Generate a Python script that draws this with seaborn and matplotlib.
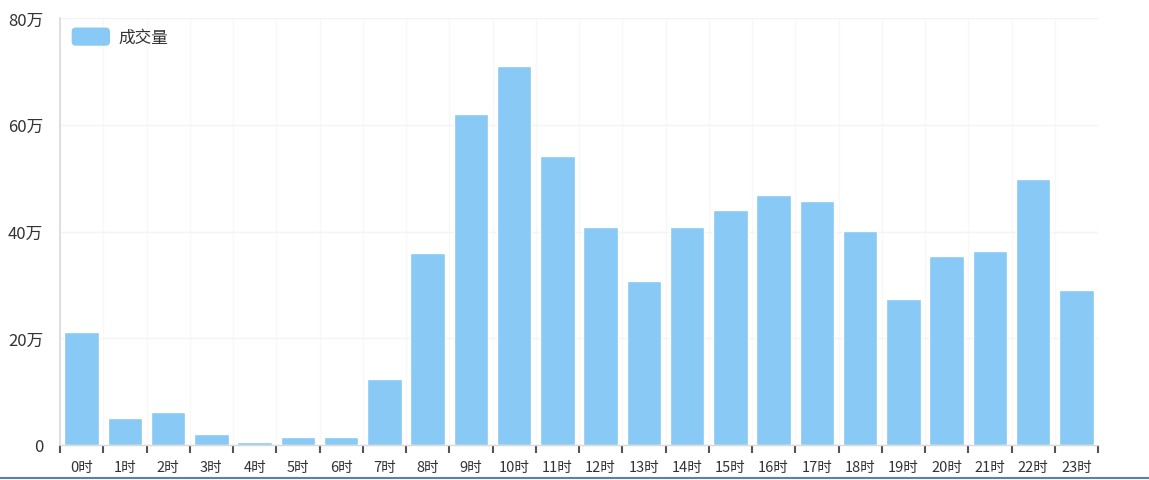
import matplotlib
matplotlib.use("Agg")
import matplotlib.pyplot as plt
import seaborn as sns
import pandas as pd
from matplotlib.patches import FancyBboxPatch, Patch
from matplotlib.legend_handler import HandlerPatch
from matplotlib.lines import Line2D

hours = [f"{i}时" for i in range(24)]
volume = [21.2, 5.1, 6.2, 2.1, 0.6, 1.5, 1.5, 12.4, 36.0, 62.0, 71.0, 54.2,
          40.8, 30.7, 40.8, 44.0, 46.8, 45.7, 40.1, 27.4, 35.4, 36.4, 49.8, 29.0]
y_ticks = [0, 20, 40, 60, 80]
y_labels = ["0", "20万", "40万", "60万", "80万"]
series_name = "成交量"

bar_color = "#88c9f5"

sns.set_theme(style="white")
plt.rcParams['font.family'] = ['Noto Sans CJK SC', 'DejaVu Sans']

df = pd.DataFrame({"hour": hours, "volume": volume})

fig = plt.figure(figsize=(11.49, 4.81), dpi=100)
ax = fig.add_axes([60/1149, 35/481, (1098-60)/1149, (446-19)/481])

sns.barplot(data=df, x="hour", y="volume", color=bar_color, width=0.8,
            saturation=1, ax=ax, order=hours)
ax.set_xlim(-0.5, len(hours) - 0.5)
ax.set_ylim(0, 80)
ax.set_xlabel("")
ax.set_ylabel("")

ax.set_yticks(y_ticks)
ax.set_yticklabels(y_labels, fontsize=12, color="#333333")
ax.tick_params(axis="y", length=0, pad=12)

ax.set_xticks(range(len(hours)))
ax.set_xticklabels(hours, fontsize=10.5, color="#333333")
ax.set_xticks([i - 0.5 for i in range(len(hours) + 1)], minor=True)
ax.tick_params(axis="x", which="major", length=0, pad=11, bottom=True)
ax.tick_params(axis="x", which="minor", length=6, width=1.5, color="#555555",
               direction="out", bottom=True)

ax.grid(axis="y", which="major", color="#f4f4f4", linewidth=1)
ax.grid(axis="x", which="minor", color="#f8f8f8", linewidth=1)
ax.grid(axis="x", which="major", visible=False)
ax.set_axisbelow(True)

for side in ["top", "right"]:
    ax.spines[side].set_visible(False)
ax.spines["left"].set_color("#d9d9d9")
ax.spines["left"].set_linewidth(1.2)
ax.spines["bottom"].set_color("#d9d9d9")
ax.spines["bottom"].set_linewidth(1.0)


class RoundHandler(HandlerPatch):
    def create_artists(self, legend, orig_handle, xdescent, ydescent,
                       width, height, fontsize, trans):
        p = FancyBboxPatch((-xdescent, -ydescent), width, height,
                           boxstyle="round,pad=0,rounding_size=3",
                           facecolor=bar_color, edgecolor="none",
                           transform=trans)
        return [p]


handle = Patch(facecolor=bar_color, label=series_name)
ax.legend(handles=[handle], loc="upper left", frameon=False,
          handler_map={Patch: RoundHandler()},
          handlelength=2.3, handleheight=1.3, handletextpad=0.5,
          fontsize=12, bbox_to_anchor=(0.0, 1.005), borderaxespad=0.3,
          labelcolor="#333333")

fig.add_artist(Line2D([0, 1], [2.5/481, 2.5/481], transform=fig.transFigure,
                      color="#5b7fb3", linewidth=1.5))

fig.savefig("out.png", dpi=100)
